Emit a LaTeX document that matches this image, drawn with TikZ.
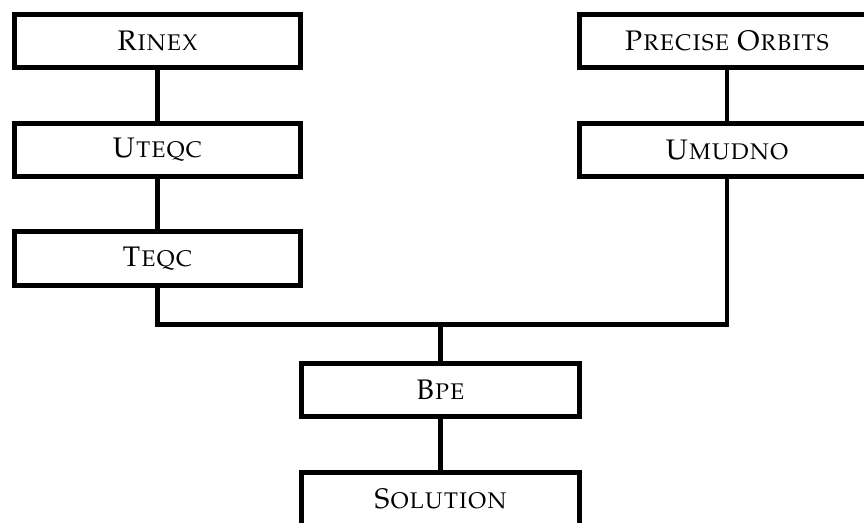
\documentclass[tikz,border=0pt]{standalone}
\usepackage[T1]{fontenc}
\usepackage{mathpazo}
\usetikzlibrary{positioning}

\begin{document}
\begin{tikzpicture}[
  x = 0.375pt, y = -0.375pt,
  node distance = 20.8pt,
  box/.style = {rectangle, draw, line width=1.85pt, outer sep=0pt,
                minimum height=20pt, minimum width=107.25pt,
                inner sep=0pt, font=\fontsize{10.6pt}{12pt}\selectfont\scshape},
  link/.style = {draw, line width=1.85pt}
]
\useasboundingbox (0,0) rectangle (864,522);

% observation branch
\node[box] (rinex) at (157.5,41) {Rinex};
\node[box, below=of rinex] (uteqc) {Uteqc};
\node[box, below=of uteqc] (teqc) {Teqc};

% orbit branch
\node[box, minimum width=110.5pt] (orbits) at (727,41) {Precise Orbits};
\node[box, minimum width=110.5pt, below=of orbits] (umudno) {Umudno};

% processing
\node[box, minimum width=104.1pt] (bpe) at (440.5,390) {Bpe};
\node[box, minimum width=104.1pt, below=of bpe] (sol) {Solution};
\coordinate[above=14.4pt of bpe] (join);

% connectors
\draw[link] (rinex) -- (uteqc);
\draw[link] (uteqc) -- (teqc);
\draw[link] (orbits) -- (umudno);
\draw[link] (teqc.south) |- (join) -| (umudno.south);
\draw[link] (join) -- (bpe);
\draw[link] (bpe) -- (sol);
\end{tikzpicture}
\end{document}
